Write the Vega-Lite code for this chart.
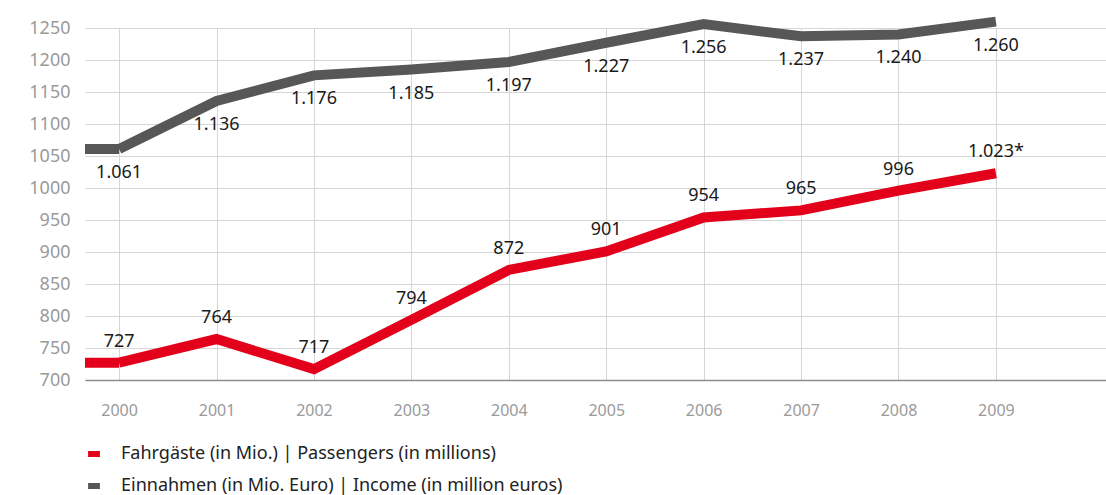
{
  "$schema": "https://vega.github.io/schema/vega-lite/v6.json",
  "autosize": "none",
  "width": 1021,
  "height": 352,
  "padding": {"left": 85, "top": 28, "right": 0, "bottom": 115},
  "background": "white",
  "config": {
    "font": "Noto Sans",
    "view": {"stroke": null},
    "axis": {"gridColor": "#d6d6d6", "gridWidth": 1, "ticks": false, "labelFont": "Noto Sans", "labelColor": "#9a9a9a", "labelFontSize": 17, "title": null}
  },
  "data": {
    "values": [
      {"year": 2000, "series": "Fahrgäste (in Mio.) | Passengers (in millions)", "value": 727, "label": "727"},
      {"year": 2001, "series": "Fahrgäste (in Mio.) | Passengers (in millions)", "value": 764, "label": "764"},
      {"year": 2002, "series": "Fahrgäste (in Mio.) | Passengers (in millions)", "value": 717, "label": "717"},
      {"year": 2003, "series": "Fahrgäste (in Mio.) | Passengers (in millions)", "value": 794, "label": "794"},
      {"year": 2004, "series": "Fahrgäste (in Mio.) | Passengers (in millions)", "value": 872, "label": "872"},
      {"year": 2005, "series": "Fahrgäste (in Mio.) | Passengers (in millions)", "value": 901, "label": "901"},
      {"year": 2006, "series": "Fahrgäste (in Mio.) | Passengers (in millions)", "value": 954, "label": "954"},
      {"year": 2007, "series": "Fahrgäste (in Mio.) | Passengers (in millions)", "value": 965, "label": "965"},
      {"year": 2008, "series": "Fahrgäste (in Mio.) | Passengers (in millions)", "value": 996, "label": "996"},
      {"year": 2009, "series": "Fahrgäste (in Mio.) | Passengers (in millions)", "value": 1023, "label": "1.023*"},
      {"year": 2000, "series": "Einnahmen (in Mio. Euro) | Income (in million euros)", "value": 1061, "label": "1.061"},
      {"year": 2001, "series": "Einnahmen (in Mio. Euro) | Income (in million euros)", "value": 1136, "label": "1.136"},
      {"year": 2002, "series": "Einnahmen (in Mio. Euro) | Income (in million euros)", "value": 1176, "label": "1.176"},
      {"year": 2003, "series": "Einnahmen (in Mio. Euro) | Income (in million euros)", "value": 1185, "label": "1.185"},
      {"year": 2004, "series": "Einnahmen (in Mio. Euro) | Income (in million euros)", "value": 1197, "label": "1.197"},
      {"year": 2005, "series": "Einnahmen (in Mio. Euro) | Income (in million euros)", "value": 1227, "label": "1.227"},
      {"year": 2006, "series": "Einnahmen (in Mio. Euro) | Income (in million euros)", "value": 1256, "label": "1.256"},
      {"year": 2007, "series": "Einnahmen (in Mio. Euro) | Income (in million euros)", "value": 1237, "label": "1.237"},
      {"year": 2008, "series": "Einnahmen (in Mio. Euro) | Income (in million euros)", "value": 1240, "label": "1.240"},
      {"year": 2009, "series": "Einnahmen (in Mio. Euro) | Income (in million euros)", "value": 1260, "label": "1.260"}
    ]
  },
  "encoding": {
    "x": {
      "field": "year", "type": "quantitative",
      "scale": {"domain": [1999.65, 2010.13], "nice": false, "zero": false},
      "axis": {"values": [2000, 2001, 2002, 2003, 2004, 2005, 2006, 2007, 2008, 2009], "format": "d", "domainColor": "#8c8c8c", "domainWidth": 1.5, "labelPadding": 22, "labelFontSize": 16}
    },
    "y": {
      "field": "value", "type": "quantitative",
      "scale": {"domain": [700, 1250], "nice": false, "zero": false},
      "axis": {"values": [700, 750, 800, 850, 900, 950, 1000, 1050, 1100, 1150, 1200, 1250], "format": "d", "domain": false, "labelPadding": 15, "labelFontSize": 18}
    },
    "color": {
      "field": "series", "type": "nominal",
      "scale": {"domain": ["Fahrgäste (in Mio.) | Passengers (in millions)", "Einnahmen (in Mio. Euro) | Income (in million euros)"], "range": ["#e2001a", "#575757"]},
      "legend": {"orient": "bottom", "direction": "vertical", "title": null, "offset": 27, "labelFont": "Noto Sans", "labelFontSize": 18, "labelColor": "#222222", "labelLimit": 0, "symbolType": "stroke", "symbolStrokeWidth": 6, "symbolSize": 140, "rowPadding": 8, "labelOffset": 18}
    }
  },
  "layer": [
    {
      "mark": {"type": "line", "strokeWidth": 10, "strokeJoin": "miter", "strokeCap": "butt", "clip": false}
    },
    {
      "transform": [{"filter": "datum.year == 2000"}],
      "mark": {"type": "rule", "strokeWidth": 10, "strokeCap": "butt"},
      "encoding": {
        "x": {"datum": 1999.65, "type": "quantitative"},
        "x2": {"field": "year"}
      }
    },
    {
      "transform": [{"filter": "datum.value < 1050"}],
      "mark": {"type": "text", "dy": -21, "fontSize": 18, "font": "Noto Sans"},
      "encoding": {"text": {"field": "label"}, "color": {"value": "#1a1a1a"}}
    },
    {
      "transform": [{"filter": "datum.value >= 1050"}],
      "mark": {"type": "text", "dy": 24, "fontSize": 18, "font": "Noto Sans"},
      "encoding": {"text": {"field": "label"}, "color": {"value": "#1a1a1a"}}
    }
  ]
}
